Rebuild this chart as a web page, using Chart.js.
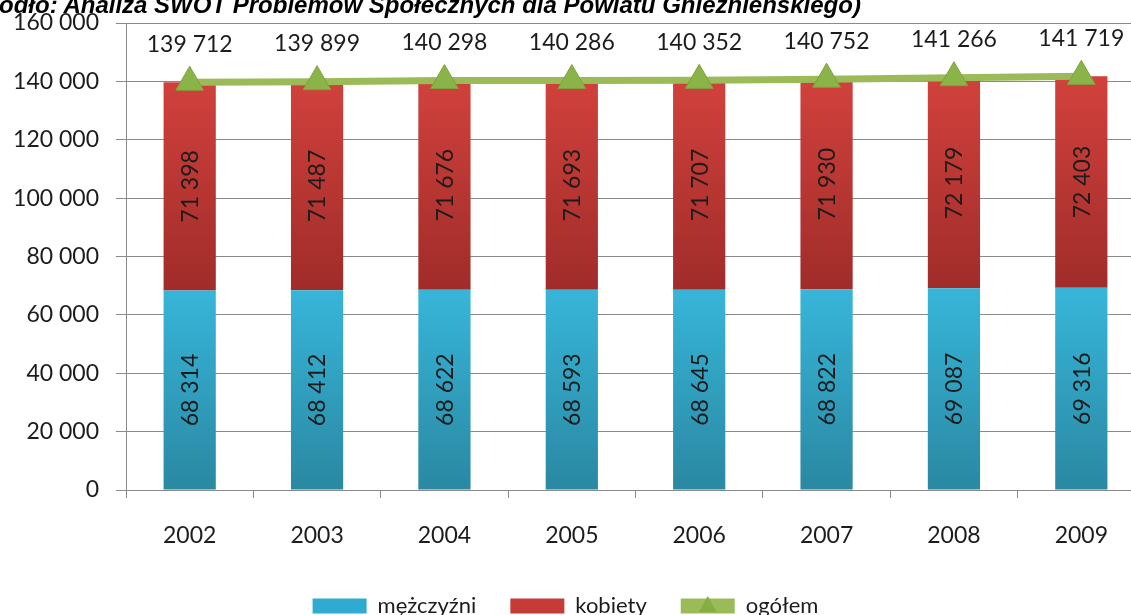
<!DOCTYPE html>
<html>
<head>
<meta charset="utf-8">
<script src="https://cdn.jsdelivr.net/npm/chart.js@4"></script>
<style>
  html, body { margin: 0; padding: 0; width: 1131px; height: 615px; overflow: hidden; background: #fff; }
  #zrodlo {
    position: absolute; left: -1px; top: -9px; white-space: nowrap; line-height: 24px;
    font: italic bold 24px "Liberation Sans", Arial, sans-serif; color: #000; z-index: 2;
  }
  #box { position: absolute; left: -15px; top: 6px; width: 1177px; height: 621px; }
  #grafico { display: block; }
</style>
</head>
<body>
<div id="zrodlo">ódło: Analiza SWOT Problemów Społecznych dla Powiatu Gnieźnieńskiego)</div>
<div id="box"><canvas id="grafico" width="1177" height="621"></canvas></div>
<script>
// dane z wykresu
var lata = ['2002', '2003', '2004', '2005', '2006', '2007', '2008', '2009'];
var mezczyzni = [68314, 68412, 68622, 68593, 68645, 68822, 69087, 69316];
var kobiety = [71398, 71487, 71676, 71693, 71707, 71930, 72179, 72403];
var ogolem = [139712, 139899, 140298, 140286, 140352, 140752, 141266, 141719];
var osY = [0, 20000, 40000, 60000, 80000, 100000, 120000, 140000, 160000];

var czcionka = 'Lato, "Open Sans", sans-serif';
var kolorTekstu = '#1c1c1c';

function formatuj(n) {
    return String(n).replace(/\B(?=(\d{3})+(?!\d))/g, ' ');
}

function gradient(ctx, gora, dol, kolorGora, kolorDol) {
    var chart = ctx.chart;
    if (!chart.chartArea) return kolorGora;
    var y = chart.scales.y;
    var g = chart.ctx.createLinearGradient(0, y.getPixelForValue(gora), 0, y.getPixelForValue(dol));
    g.addColorStop(0, kolorGora);
    g.addColorStop(1, kolorDol);
    return g;
}

// etykiety wartosci na slupkach i nad linia
var etykiety = {
    id: 'etykiety',
    afterLayout: function(chart) {
        // legenda wysrodkowana na widocznym obszarze strony
        var lg = chart.legend;
        lg.left -= 8; lg.right -= 8;
        (lg.legendHitBoxes || []).forEach(function(h) { h.left -= 8; });
    },
    afterDatasetsDraw: function(chart) {
        var c = chart.ctx;
        c.save();
        c.font = '23px ' + czcionka;
        c.fillStyle = kolorTekstu;
        c.textAlign = 'center';
        c.textBaseline = 'middle';
        [0, 1].forEach(function(i) {
            var meta = chart.getDatasetMeta(i);
            var dane = chart.data.datasets[i].data;
            meta.data.forEach(function(bar, j) {
                c.save();
                c.translate(bar.x, (bar.y + bar.base) / 2);
                c.rotate(-Math.PI / 2);
                c.fillText(formatuj(dane[j]), 0, 1);
                c.restore();
            });
        });
        var linia = chart.getDatasetMeta(2);
        linia.data.forEach(function(p, j) {
            c.fillText(formatuj(ogolem[j]), p.x, p.y - 38);
        });
        c.restore();
    },
    afterDraw: function(chart) {
        // trojkat na probce linii w legendzie
        var lg = chart.legend;
        var h = lg.legendHitBoxes && lg.legendHitBoxes[2];
        if (!h) return;
        var c = chart.ctx;
        var bw = lg.options.labels.boxWidth;
        var cx = h.left + bw / 2, cy = h.top + h.height / 2;
        c.save();
        c.fillStyle = '#86AE42';
        c.beginPath();
        c.moveTo(cx, cy - 10);
        c.lineTo(cx + 9, cy + 6);
        c.lineTo(cx - 9, cy + 6);
        c.closePath();
        c.fill();
        c.restore();
    }
};

var ctx = document.getElementById('grafico').getContext('2d');
var grafico = new Chart(ctx, {
    type: 'bar',
    data: {
        labels: lata,
        datasets: [{
            label: 'mężczyźni',
            data: mezczyzni,
            stack: 'ludnosc',
            backgroundColor: function(c) { return gradient(c, 68000, 0, '#37B5D9', '#2A88A2'); },
            borderWidth: 0,
            barPercentage: 1,
            categoryPercentage: 0.41,
            order: 1
        }, {
            label: 'kobiety',
            data: kobiety,
            stack: 'ludnosc',
            backgroundColor: function(c) { return gradient(c, 140000, 69000, '#D1413C', '#A02C29'); },
            borderWidth: 0,
            barPercentage: 1,
            categoryPercentage: 0.41,
            order: 1
        }, {
            type: 'line',
            label: 'ogółem',
            data: ogolem,
            stack: 'razem',
            borderColor: '#9BBB59',
            backgroundColor: '#8AB447',
            borderWidth: 7,
            pointStyle: 'triangle',
            pointRadius: 16,
            pointHoverRadius: 16,
            pointBorderColor: '#7EA23E',
            pointBorderWidth: 1,
            tension: 0,
            order: 0
        }]
    },
    plugins: [etykiety],
    options: {
        responsive: false,
        animation: false,
        layout: { padding: { top: 11, left: 0, right: 0, bottom: 0 } },
        plugins: {
            tooltip: { enabled: false },
            title: { display: false },
            legend: {
                position: 'bottom',
                labels: {
                    boxWidth: 54,
                    boxHeight: 15,
                    padding: 34,
                    color: kolorTekstu,
                    font: { family: czcionka, size: 22 },
                    generateLabels: function(chart) {
                        var kolory = ['#2FAAD0', '#C63A37', '#9BBB59'];
                        return chart.data.datasets.map(function(ds, i) {
                            return {
                                text: ds.label,
                                fillStyle: kolory[i],
                                strokeStyle: kolory[i],
                                lineWidth: 0,
                                fontColor: kolorTekstu,
                                datasetIndex: i,
                                hidden: false
                            };
                        });
                    }
                }
            }
        },
        scales: {
            x: {
                stacked: true,
                grid: { drawOnChartArea: false, drawTicks: true, tickLength: 8, color: '#8a8a8a', offset: true },
                border: { color: '#8a8a8a', width: 1 },
                ticks: { color: kolorTekstu, font: { family: czcionka, size: 23 }, padding: 24, maxRotation: 0 },
                afterFit: function(s) { s.height = 71; s.paddingLeft = 0; s.paddingRight = 0; }
            },
            y: {
                stacked: true,
                min: 0,
                max: 160000,
                afterBuildTicks: function(s) { s.ticks = osY.map(function(v) { return { value: v }; }); },
                grid: { color: '#8a8a8a', lineWidth: 1, tickLength: 10 },
                border: { color: '#8a8a8a', width: 1 },
                ticks: {
                    color: kolorTekstu,
                    font: { family: czcionka, size: 23 },
                    padding: 17,
                    callback: function(v) { return formatuj(v); }
                },
                afterFit: function(s) {
                    s.width = 141;
                    s.paddingTop = 12; s.paddingBottom = 12;
                    s.paddingLeft = 0; s.paddingRight = 0;
                }
            }
        }
    }
});
</script>
</body>
</html>
